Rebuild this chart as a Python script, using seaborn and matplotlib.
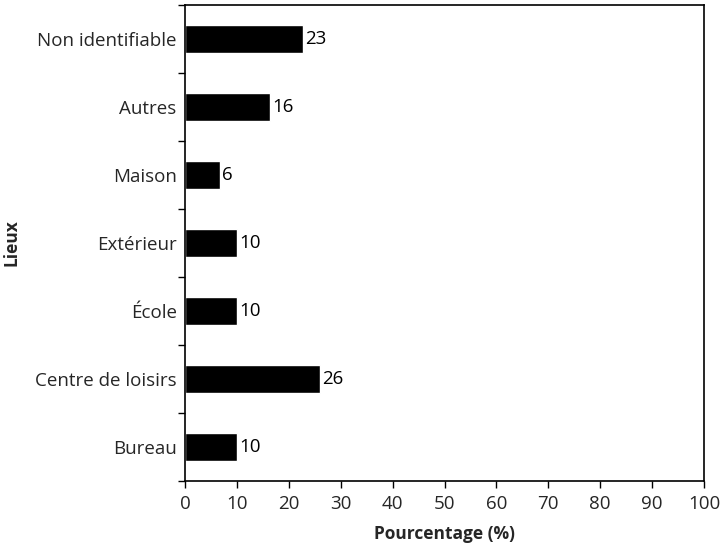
import numpy as np
import pandas as pd
import matplotlib
matplotlib.use("Agg")
import matplotlib.pyplot as plt
import seaborn as sns

# data
lieux = ["Non identifiable", "Autres", "Maison", "Extérieur", "École",
         "Centre de loisirs", "Bureau"]
pourcentages = [22.7, 16.3, 6.7, 10.0, 10.0, 26.0, 10.0]
etiquettes = ["23", "16", "6", "10", "10", "26", "10"]
x_ticks = list(range(0, 101, 10))

df = pd.DataFrame({"Lieux": lieux, "Pourcentage": pourcentages})

sns.set_theme(style="white")
plt.rcParams["font.family"] = ["Open Sans", "DejaVu Sans"]

fig = plt.figure(figsize=(7.26, 5.5), dpi=100)
ax = fig.add_axes([185 / 726, 1 - 481 / 550, (704 - 185) / 726, (481 - 5) / 550])

sns.barplot(data=df, x="Pourcentage", y="Lieux", order=lieux, color="black",
            width=0.41, saturation=1, ax=ax)

for i, (v, lab) in enumerate(zip(pourcentages, etiquettes)):
    ax.text(v + 0.5, i, lab, va="center", ha="left", fontsize=13.5, color="black")

ax.set_xlim(0, 100)
ax.set_ylim(len(lieux) - 0.5, -0.5)
ax.set_xticks(x_ticks)
ax.set_xticklabels([str(t) for t in x_ticks], fontsize=13.5)

# category labels centred, tick marks on the boundaries
ax.set_yticks(np.arange(len(lieux)))
ax.set_yticklabels(lieux, fontsize=13.5)
ax.tick_params(axis="y", which="major", length=0, pad=6)
ax.set_yticks(np.arange(len(lieux) + 1) - 0.5, minor=True)
ax.tick_params(axis="y", which="minor", length=5, width=1, color="black", left=True)
ax.tick_params(axis="x", which="major", length=5, width=1, color="black", bottom=True, pad=5)

for s in ax.spines.values():
    s.set_visible(True)
    s.set_color("black")
    s.set_linewidth(1.2)

ax.set_xlabel("Pourcentage (%)", fontsize=12.5, fontweight="bold", labelpad=9)
ax.set_ylabel("Lieux", fontsize=12.5, fontweight="bold")
ax.yaxis.set_label_coords((20 - 185) / 519, 0.5)

fig.savefig("out.png", dpi=100)
